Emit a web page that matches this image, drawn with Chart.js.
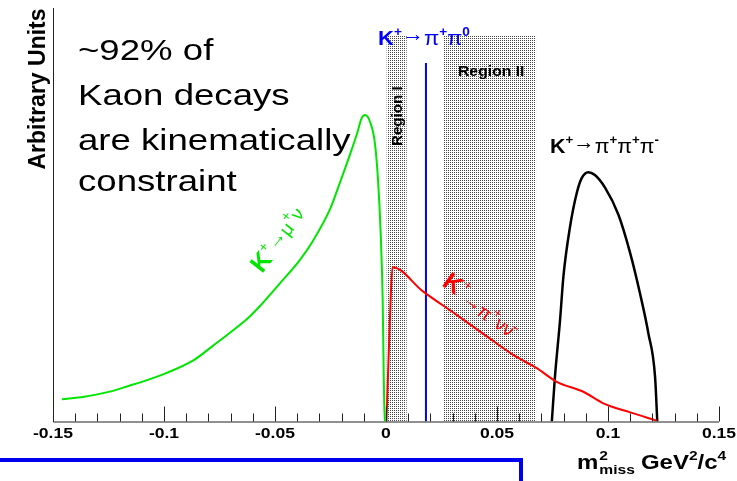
<!DOCTYPE html>
<html>
<head>
<meta charset="utf-8">
<script src="https://cdn.jsdelivr.net/npm/chart.js@4"></script>
<style>
  body { margin: 0; background: #fff; }
  canvas { display: block; }
</style>
</head>
<body>
<canvas id="mmiss" width="737" height="481"></canvas>
<script>
// valores (eje y en unidades arbitrarias 0-100)
const muNuX = [-0.146, -0.136, -0.123, -0.116, -0.111, -0.099, -0.087, -0.078, -0.069, -0.061, -0.057, -0.048, -0.039, -0.033, -0.025, -0.021, -0.016, -0.013, -0.011, -0.0095, -0.0072, -0.005, -0.0035, -0.0024, -0.0015, -0.001, -0.0008, -0.0005];
const muNuY = [5.4, 6.0, 7.4, 8.6, 9.4, 11.7, 14.7, 18.3, 22.0, 25.6, 27.8, 33.3, 38.9, 43.6, 51.6, 57.4, 64.9, 69.7, 73.3, 74.1, 72.5, 67.3, 57.6, 45.5, 29.4, 10, 4.5, 0];

const piNuNuX = [0.0002, 0.0018, 0.0029, 0.0168, 0.0318, 0.0454, 0.0573, 0.0679, 0.0769, 0.0889, 0.0979, 0.110, 0.122];
const piNuNuY = [0, 25.3, 37.3, 31.4, 25.8, 20.6, 16.1, 12.9, 9.6, 7.2, 4.4, 2.2, 0.2];

const pi3X = [0.0747, 0.0761, 0.0784, 0.0799, 0.0829, 0.0859, 0.0881, 0.0911, 0.0941, 0.0986, 0.1047, 0.1099, 0.1144, 0.1182, 0.1212, 0.1222];
const pi3Y = [0, 10.8, 24.5, 35, 47.1, 55.2, 58.8, 60.3, 59.6, 56.6, 50.0, 40.9, 31, 21.3, 10.8, 0];

const pi2X = [0.018, 0.018];
const pi2Y = [0, 86.7];

// regiones de señal [desde, hasta, altura]
const regionI = [0.0003, 0.0093, 93.3];
const regionII = [0.0261, 0.0676, 93.3];

const xTicks = [-0.15, -0.1, -0.05, 0, 0.05, 0.1, 0.15];
const xTickLabels = ['-0.15', '-0.1', '-0.05', '0', '0.05', '0.1', '0.15'];

const toPoints = (xs, ys) => xs.map((x, i) => ({ x: x, y: ys[i] }));

// trama de puntos para las regiones
function dotPattern(ctx) {
  const c = document.createElement('canvas');
  c.width = 2; c.height = 2;
  const p = c.getContext('2d');
  p.fillStyle = '#fff';
  p.fillRect(0, 0, 2, 2);
  p.fillStyle = '#444';
  p.fillRect(0, 0, 1, 1);
  return ctx.createPattern(c, 'repeat');
}

// texto con super/subindices: parts = [[texto, fuente, dy, noAvanzar]]
// sx = estiramiento horizontal (el original esta algo ensanchado)
function drawRich(ctx, x, y, parts, color, sx) {
  sx = sx || 1;
  ctx.save();
  ctx.translate(x, y);
  ctx.scale(sx, 1);
  ctx.fillStyle = color;
  ctx.textBaseline = 'alphabetic';
  ctx.textAlign = 'left';
  let cx = 0;
  parts.forEach(p => {
    ctx.font = p[1];
    ctx.fillText(p[0], cx, p[2] || 0);
    if (!p[3]) cx += ctx.measureText(p[0]).width;
  });
  ctx.restore();
  return x + cx * sx;
}

const F = 'Arial, "Liberation Sans", sans-serif';
const SX = 1.2;

const regionsPlugin = {
  id: 'regions',
  beforeDatasetsDraw(chart) {
    const { ctx, scales: { x, y } } = chart;
    ctx.save();
    ctx.fillStyle = dotPattern(ctx);
    [regionI, regionII].forEach(r => {
      const x0 = x.getPixelForValue(r[0]);
      const x1 = x.getPixelForValue(r[1]);
      const y0 = y.getPixelForValue(r[2]);
      const y1 = y.getPixelForValue(0);
      ctx.fillRect(x0, y0, x1 - x0, y1 - y0);
    });
    ctx.restore();
  }
};

const axesPlugin = {
  id: 'axes',
  afterDraw(chart) {
    const { ctx, chartArea: a, scales: { x } } = chart;
    ctx.save();
    ctx.strokeStyle = '#222';
    ctx.lineWidth = 1;
    ctx.beginPath();
    ctx.moveTo(a.left + 0.5, a.top);
    ctx.lineTo(a.left + 0.5, a.bottom + 0.5);
    ctx.lineTo(a.right, a.bottom + 0.5);
    ctx.stroke();

    // marcas menores cada 0.01 y mayores en xTicks
    ctx.beginPath();
    for (let i = -15; i <= 15; i++) {
      const px = Math.round(x.getPixelForValue(i / 100)) + 0.5;
      const len = (i % 5 === 0) ? 15 : 8;
      ctx.moveTo(px, a.bottom);
      ctx.lineTo(px, a.bottom - len);
    }
    ctx.stroke();

    ctx.fillStyle = '#000';
    ctx.font = 'bold 15px ' + F;
    ctx.textAlign = 'center';
    ctx.textBaseline = 'top';
    xTicks.forEach((v, i) => {
      ctx.save();
      ctx.translate(x.getPixelForValue(v), a.bottom + 5);
      ctx.scale(1.17, 1);
      ctx.fillText(xTickLabels[i], 0, 0);
      ctx.restore();
    });

    // titulo eje x
    const tf = 'bold 20px ' + F, ts = 'bold 13px ' + F;
    let tx = drawRich(ctx, 577, 469, [['m', tf]], '#000', SX);
    drawRich(ctx, tx + 1, 469, [['2', ts, -9]], '#000', SX);
    tx = drawRich(ctx, tx + 1, 469, [['miss', ts, 5]], '#000', SX);
    drawRich(ctx, tx + 6, 469, [
      ['GeV', tf], ['2', ts, -9], ['/c', tf], ['4', ts, -9]
    ], '#000', SX);

    // titulo eje y
    ctx.save();
    ctx.translate(45, 89);
    ctx.rotate(-Math.PI / 2);
    ctx.font = 'bold 23px ' + F;
    ctx.textAlign = 'center';
    ctx.textBaseline = 'alphabetic';
    ctx.fillText('Arbitrary Units', 0, 0);
    ctx.restore();

    ctx.restore();
  }
};

const labelsPlugin = {
  id: 'labels',
  afterDraw(chart) {
    const { ctx } = chart;
    ctx.save();

    // texto grande
    ['~92% of', 'Kaon decays', 'are kinematically', 'constraint'].forEach((t, i) => {
      drawRich(ctx, 78, [60, 105, 150, 191][i], [[t, '30px ' + F]], '#000', 1.22);
    });

    const big = 'bold 21px ' + F, sym = '21px ' + F, sup = 'bold 13px ' + F;
    drawRich(ctx, 378, 45, [['K', big], ['+', sup, -9], ['\u2192', sym, -4], ['\u03c0', sym], ['+', sup, -9], ['\u03c0', sym], ['0', sup, -9]], '#0000ff', 1.05);
    drawRich(ctx, 550, 153, [['K', big], ['+', sup, -9], ['\u2192', sym, -4], ['\u03c0', sym], ['+', sup, -9], ['\u03c0', sym], ['+', sup, -9], ['\u03c0', sym], ['-', sup, -9]], '#000', 1.02);

    drawRich(ctx, 458, 76, [['Region II', 'bold 15px ' + F]], '#000', 1.05);

    ctx.save();
    ctx.translate(402, 146);
    ctx.rotate(-Math.PI / 2);
    ctx.scale(1.08, 1);
    ctx.fillStyle = '#000';
    ctx.font = 'bold 14px ' + F;
    ctx.fillText('Region I', 0, 0);
    ctx.restore();

    // etiquetas inclinadas
    const kf = 'bold 25px ' + F, sf = '19px ' + F, ss = '14px ' + F;
    ctx.save();
    ctx.translate(262, 274);
    ctx.rotate(-52 * Math.PI / 180);
    drawRich(ctx, 0, 0, [['K', kf], ['+', ss, -11], ['\u2192', sf, -4], ['\u03bc', sf, -2], ['+', ss, -12], ['\u03bd', sf, -3]], '#00e600');
    ctx.restore();

    ctx.save();
    ctx.translate(441, 285);
    ctx.rotate(36 * Math.PI / 180);
    drawRich(ctx, 0, 0, [['K', kf], ['+', ss, -11], ['\u2192', sf, 1], ['\u03c0', sf, 3], ['+', ss, -6], ['\u03bd\u03bd\u0304', sf, 3]], '#ff0000');
    ctx.restore();

    // linea azul decorativa inferior
    ctx.strokeStyle = '#0000ee';
    ctx.lineWidth = 4;
    ctx.beginPath();
    ctx.moveTo(0, 460);
    ctx.lineTo(521, 460);
    ctx.lineTo(521, 481);
    ctx.stroke();

    ctx.restore();
  }
};

const lineDs = (label, xs, ys, color, width) => ({
  label: label,
  data: toPoints(xs, ys),
  showLine: true,
  borderColor: color,
  borderWidth: width,
  pointRadius: 0,
  cubicInterpolationMode: 'monotone',
  fill: false
});

new Chart(document.getElementById('mmiss').getContext('2d'), {
  type: 'scatter',
  data: {
    datasets: [
      lineDs('K+ -> mu+ nu', muNuX, muNuY, '#00e600', 2),
      lineDs('K+ -> pi+ nu nubar', piNuNuX, piNuNuY, '#ff0000', 2),
      lineDs('K+ -> pi+ pi+ pi-', pi3X, pi3Y, '#000', 2.5),
      lineDs('K+ -> pi+ pi0', pi2X, pi2Y, '#0000ff', 2)
    ]
  },
  options: {
    responsive: false,
    animation: false,
    layout: { padding: { left: 53, right: 18, top: 8, bottom: 59.5 } },
    scales: {
      x: { type: 'linear', min: -0.15, max: 0.15, display: false },
      y: { type: 'linear', min: 0, max: 100, display: false }
    },
    plugins: {
      legend: { display: false },
      tooltip: { enabled: false }
    }
  },
  plugins: [regionsPlugin, axesPlugin, labelsPlugin]
});
</script>
</body>
</html>
